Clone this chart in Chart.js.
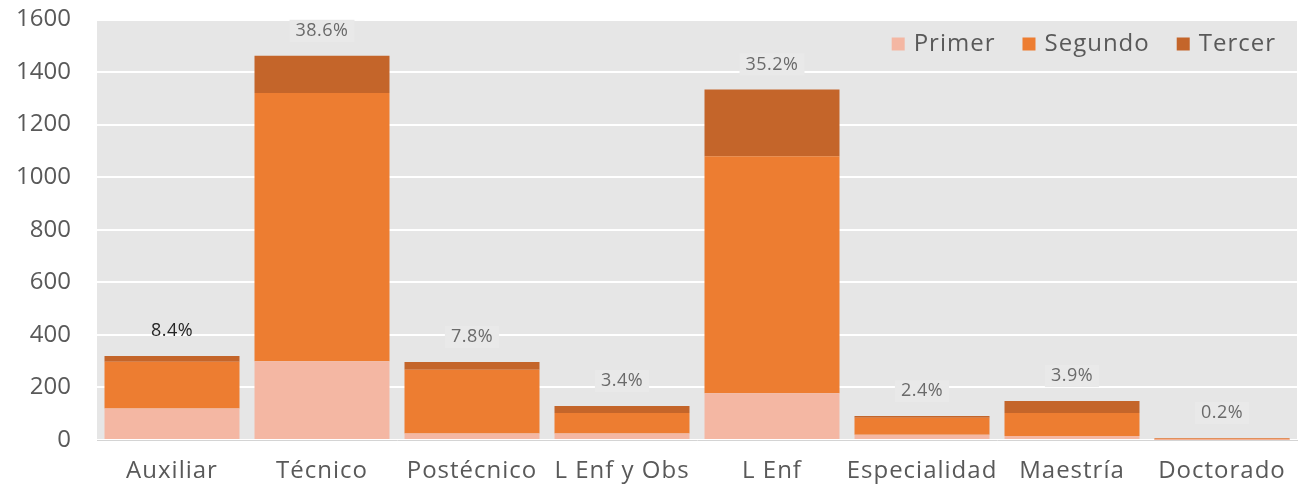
<!DOCTYPE html>
<html>
<head>
<meta charset="utf-8">
<script src="https://cdn.jsdelivr.net/npm/chart.js@4"></script>
<style>
html,body{margin:0;padding:0;background:#fff;}
#wrap{width:1304px;height:493px;position:relative;}
</style>
</head>
<body>
<div id="wrap"><canvas id="c" width="1304" height="493"></canvas></div>
<script>
const categories = ['Auxiliar','Técnico','Postécnico','L Enf y Obs','L Enf','Especialidad','Maestría','Doctorado'];
const primer  = [120, 300, 25, 25, 178, 20, 15, 1];
const segundo = [178, 1020, 242, 78, 902, 65, 88, 5];
const tercer  = [22, 142, 30, 26, 254, 6, 45, 2];
const shareLabels = ['8.4%','38.6%','7.8%','3.4%','35.2%','2.4%','3.9%','0.2%'];
const seriesNames = ['Primer','Segundo','Tercer'];
const yMax = 1600, yStep = 200;

const FONT = '"Open Sans", sans-serif';
const colors = ['#f4b7a3', '#ed7d31', '#c4652a'];

const bgPlugin = {
  id: 'bg',
  beforeDraw(chart) {
    const {ctx, chartArea: a} = chart;
    ctx.save();
    ctx.fillStyle = '#e6e6e6';
    ctx.fillRect(a.left, a.top, a.right - a.left, a.bottom - a.top);
    ctx.restore();
  }
};

const labelPlugin = {
  id: 'shareLabels',
  afterDatasetsDraw(chart) {
    const ctx = chart.ctx;
    ctx.save();
    ctx.font = '18px ' + FONT;
    ctx.letterSpacing = '0.5px';
    ctx.textAlign = 'center';
    ctx.textBaseline = 'middle';
    categories.forEach((c, i) => {
      let top = Infinity, x = 0;
      chart.data.datasets.forEach((ds, d) => {
        const el = chart.getDatasetMeta(d).data[i];
        if (el.y < top) { top = el.y; x = el.x; }
      });
      const y = top - 25;
      const t = shareLabels[i];
      const w = ctx.measureText(t).width;
      if (i > 0) {
        ctx.fillStyle = '#e9e9e9';
        ctx.fillRect(x - w/2 - 6, y - 11, w + 12, 22);
      }
      ctx.fillStyle = i === 0 ? '#262626' : '#6a6a6a';
      ctx.fillText(t, x, y);
    });
    ctx.restore();
  }
};

const legendPlugin = {
  id: 'customLegend',
  afterDraw(chart) {
    const ctx = chart.ctx;
    const a = chart.chartArea;
    ctx.save();
    ctx.font = '24px ' + FONT;
    ctx.letterSpacing = '1px';
    ctx.textBaseline = 'middle';
    const box = 13, gapBT = 9, gapItems = 27;
    const items = chart.data.datasets.map(ds => ({label: ds.label, color: ds.backgroundColor, w: ctx.measureText(ds.label).width}));
    let total = items.reduce((s, it) => s + box + gapBT + it.w, 0) + gapItems * (items.length - 1);
    let x = a.right - 21 - total;
    const y = 44;
    items.forEach(it => {
      ctx.fillStyle = it.color;
      ctx.fillRect(x, y - box/2, box, box);
      x += box + gapBT;
      ctx.fillStyle = '#595959';
      ctx.fillText(it.label, x, y);
      x += it.w + gapItems;
    });
    ctx.restore();
  }
};

new Chart(document.getElementById('c'), {
  type: 'bar',
  data: {
    labels: categories,
    datasets: [
      {label: seriesNames[0], data: primer, backgroundColor: colors[0]},
      {label: seriesNames[1], data: segundo, backgroundColor: colors[1]},
      {label: seriesNames[2], data: tercer, backgroundColor: colors[2]}
    ]
  },
  options: {
    responsive: false,
    animation: false,
    layout: {padding: {left: 0, right: 7, top: 0, bottom: 0}},
    datasets: {bar: {categoryPercentage: 0.9, barPercentage: 1, borderWidth: 0}},
    plugins: {legend: {display: false}, tooltip: {enabled: false}},
    scales: {
      x: {
        stacked: true,
        grid: {display: false, drawTicks: false},
        border: {display: true, color: '#d4d4d4', width: 1},
        ticks: {color: '#595959', font: {family: FONT, size: 24}, padding: 17, maxRotation: 0, autoSkip: false},
        afterFit(s) {
          s.height = 53;
          if (!s._lsWrapped) {
            const orig = s.drawLabels;
            s.drawLabels = function(area) {
              this.ctx.save();
              this.ctx.letterSpacing = '1px';
              orig.call(this, area);
              this.ctx.restore();
            };
            s._lsWrapped = true;
          }
        }
      },
      y: {
        stacked: true,
        min: 0, max: yMax,
        grid: {color: '#ffffff', lineWidth: 2, drawTicks: false},
        border: {display: false},
        ticks: {stepSize: yStep, color: '#595959', font: {family: FONT, size: 24}, padding: 26,
                callback: v => String(v)},
        afterFit(s) { s.width = 97; s.paddingTop = 19.5; s.paddingBottom = 0; }
      }
    }
  },
  plugins: [bgPlugin, labelPlugin, legendPlugin]
});
</script>
</body>
</html>
